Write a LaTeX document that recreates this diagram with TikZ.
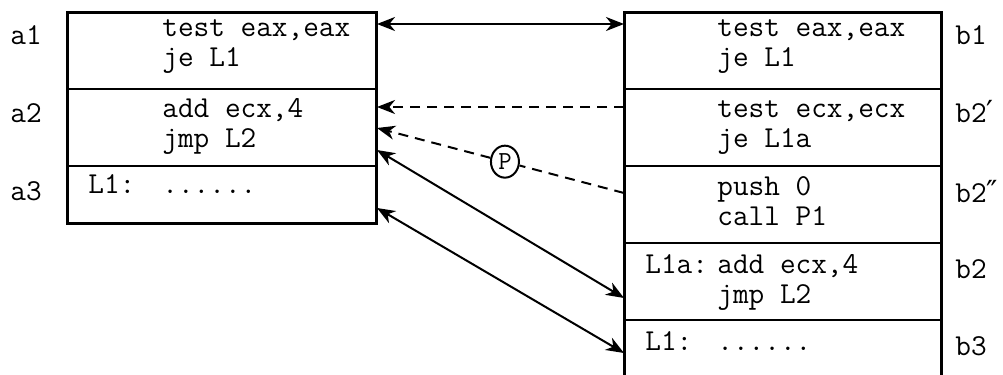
\documentclass[tikz,border=0pt]{standalone}
\usepackage{fontspec}
\newfontfamily\primefont{DejaVu Sans}
\usetikzlibrary{arrows.meta,shapes.geometric,calc}
\begin{document}
\begin{tikzpicture}[x=0.5pt,y=-0.5pt,
  row/.style={draw, line width=1pt, rectangle, inner sep=0pt, anchor=north west},
  frame/.style={draw, line width=1.3pt},
  code/.style={inner sep=0pt, anchor=base west, font=\ttfamily\fontsize{15.2}{18}\selectfont},
  link/.style={line width=1pt},
  tip/.style={-{Stealth[length=9pt,width=7pt,inset=2.8pt]}},
  twoway/.style={{Stealth[length=9pt,width=7pt,inset=2.8pt]}-{Stealth[length=9pt,width=7pt,inset=2.8pt]}},
  dashline/.style={dash pattern=on 5pt off 3.5pt},
  mark P/.style={draw, ellipse, line width=1pt, inner sep=0pt, minimum width=14pt, minimum height=16pt, fill=white, font=\ttfamily\fontsize{13}{15}\selectfont}
]
\useasboundingbox (0,0) rectangle (1003,375);

% left block
\node[row, minimum width=154pt, minimum height=38pt]   (a1) at (67,12)  {};
\node[row, minimum width=154pt, minimum height=38.5pt] (a2) at (67,88)  {};
\node[row, minimum width=154pt, minimum height=28.5pt] (a3) at (67,165) {};
\draw[frame] (a1.north west) rectangle (a3.south east);

% right block
\node[row, minimum width=158pt, minimum height=38pt]   (b1)  at (624,12)  {};
\node[row, minimum width=158pt, minimum height=38.5pt] (b2p) at (624,88)  {};
\node[row, minimum width=158pt, minimum height=38.5pt] (b2pp) at (624,165) {};
\node[row, minimum width=158pt, minimum height=38.5pt] (b2)  at (624,242) {};
\node[row, minimum width=158pt, minimum height=32pt]   (b3)  at (624,319) {};
\draw[frame] (b1.north west) rectangle (b3.south east);

% left code
\node[code] (ta1a) at (162,37)  {test eax,eax};
\node[code] (ta1b) at (162,67)  {je L1};
\node[code] (ta2a) at (162,117) {add ecx,4};
\node[code] (ta2b) at (162,147) {jmp L2};
\node[code] (ta3l) at (88,193)  {L1:};
\node[code] (ta3a) at (162,193) {......};

% right code
\node[code] (tb1a)  at (717,37)  {test eax,eax};
\node[code] (tb1b)  at (717,67)  {je L1};
\node[code] (tb2pa) at (717,117) {test ecx,ecx};
\node[code] (tb2pb) at (717,147) {je L1a};
\node[code] (tb2qa) at (717,195) {push 0};
\node[code] (tb2qb) at (717,225) {call P1};
\node[code] (tb2l)  at (645,273) {L1a:};
\node[code] (tb2a)  at (717,273) {add ecx,4};
\node[code] (tb2b)  at (717,303) {jmp L2};
\node[code] (tb3l)  at (645,350) {L1:};
\node[code] (tb3a)  at (717,350) {......};

% block labels
\node[code] (la1) at (10,45)  {a1};
\node[code] (la2) at (10,122) {a2};
\node[code] (la3) at (10,200) {a3};
\node[code] (lb1)  at (955,45)  {b1};
\node[code] (lb2p) at (955,122) {b2{\primefont ′}};
\node[code] (lb2q) at (955,202) {b2{\primefont ″}};
\node[code] (lb2)  at (955,278) {b2};
\node[code] (lb3)  at (955,355) {b3};

% connector end points on the block borders
\coordinate (a1r)  at ($(a1.north east)+(0,12)$);
\coordinate (b1l)  at ($(b1.north west)+(0,12)$);
\coordinate (a2r1) at ($(a2.north east)+(0,19)$);
\coordinate (b2pl) at ($(b2p.north west)+(0,19)$);
\coordinate (a2r2) at ($(a2.north east)+(0,40)$);
\coordinate (b2ql) at ($(b2pp.north west)+(0,28)$);
\coordinate (a2r3) at ($(a2.north east)+(0,62)$);
\coordinate (b2l)  at ($(b2.north west)+(0,56)$);
\coordinate (a3r)  at ($(a3.north east)+(0,43)$);
\coordinate (b3l)  at ($(b3.north west)+(0,34)$);

% connectors
\draw[link,twoway] (a1r) -- (b1l);
\draw[link,dashline,tip] (b2pl) -- (a2r1);
\node[mark P] (P) at ($(a2r2)!0.518!(b2ql)$) {P};
\draw[link,dashline] (b2ql) -- (P);
\draw[link,dashline,tip] (P) -- (a2r2);
\draw[link,twoway] (a2r3) -- (b2l);
\draw[link,twoway] (a3r) -- (b3l);
\end{tikzpicture}
\end{document}
